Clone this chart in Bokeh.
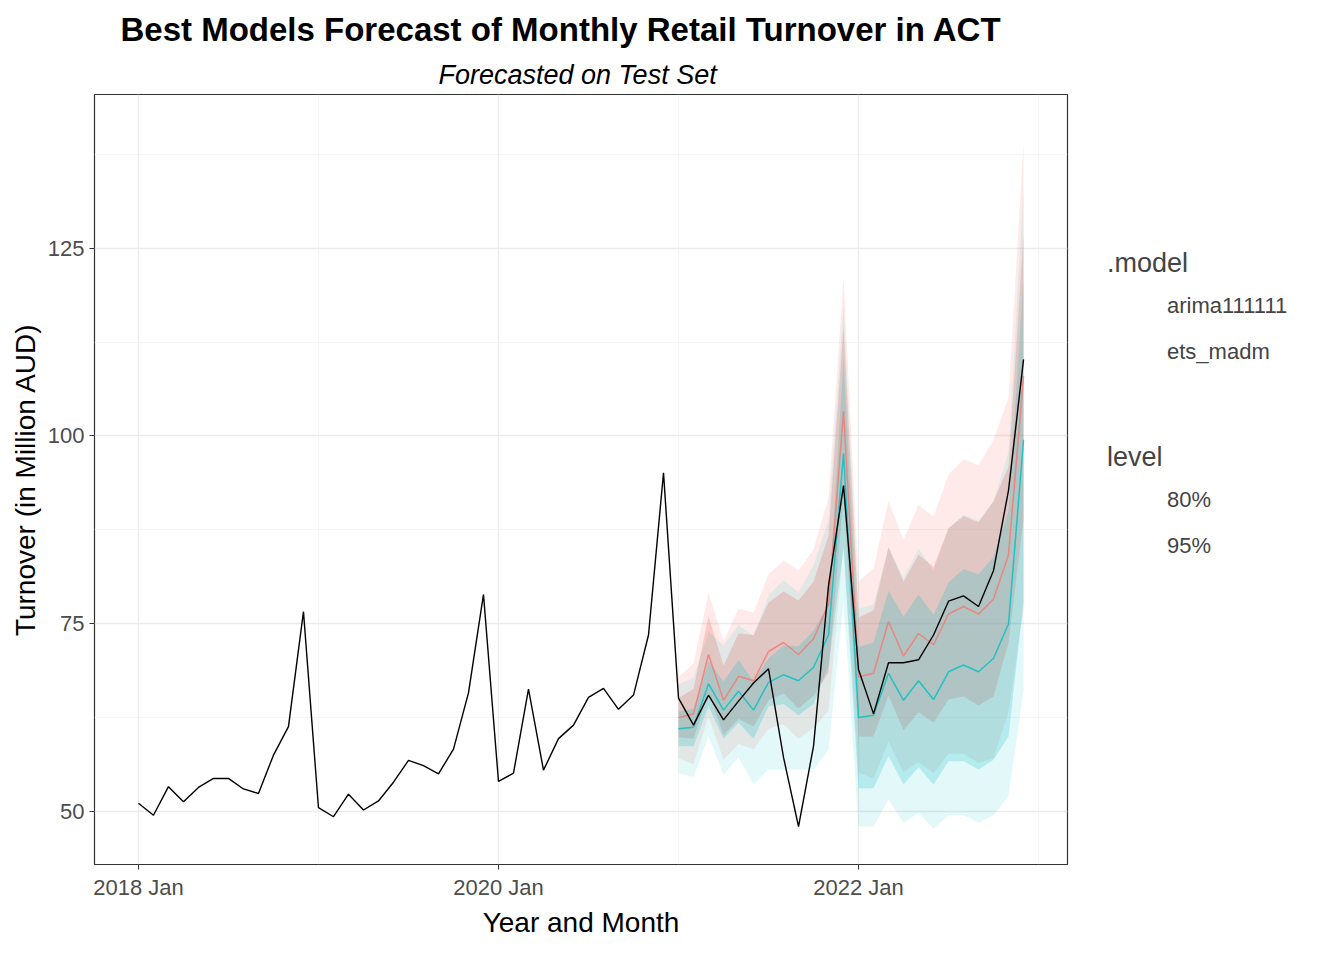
from bokeh.plotting import figure
from bokeh.models import (Range1d, FixedTicker, Title, Legend, LegendItem, ColumnDataSource)
from bokeh.layouts import row
from bokeh.embed import file_html
from bokeh.resources import INLINE

months = list(range(60))
actual = [51.1, 49.5, 53.3, 51.3, 53.2, 54.4, 54.4, 53.0, 52.4, 57.5, 61.3, 76.6,
          50.5, 49.3, 52.3, 50.2, 51.4, 53.9, 56.8, 56.1, 55.0, 58.3, 65.8, 78.9,
          54.0, 55.1, 66.3, 55.5, 59.7, 61.5, 65.2, 66.4, 63.6, 65.5, 73.5, 95.1,
          65.1, 61.5, 65.5, 62.2, 64.7, 67.1, 69.0, 57.2, 48.0, 58.7, 80.1, 93.4,
          68.9, 63.0, 69.8, 69.8, 70.2, 73.5, 78.0, 78.7, 77.3, 82.1, 92.8, 110.2]

fc_months = list(range(36, 60))
arima_mean = [62.5, 63.0, 70.9, 64.8, 68.0, 67.4, 71.3, 72.5, 70.9, 73.0, 77.6, 103.3,
              67.9, 68.4, 75.3, 70.7, 73.7, 72.2, 76.3, 77.3, 76.3, 78.3, 84.2, 108.0]
arima_up95 = [67.9, 69.7, 79.1, 72.7, 77.0, 76.5, 81.6, 83.4, 82.1, 84.9, 91.8, 121.1,
              80.6, 82.4, 91.3, 86.2, 90.8, 89.3, 94.9, 96.9, 96.1, 99.5, 105.1, 139.0]
arima_up80 = [65.1, 66.3, 76.0, 69.4, 73.7, 73.5, 77.8, 79.3, 78.1, 80.6, 86.7, 114.5,
              75.8, 76.8, 85.2, 80.6, 84.2, 82.6, 87.7, 89.3, 88.5, 91.3, 95.9, 127.0]
arima_lo80 = [59.9, 59.7, 65.8, 60.2, 62.3, 61.3, 64.8, 65.7, 63.7, 65.4, 68.5, 92.1,
              60.0, 60.0, 65.4, 60.8, 63.2, 61.8, 64.9, 65.3, 64.1, 65.3, 72.5, 89.0]
arima_lo95 = [57.1, 56.3, 62.7, 56.9, 59.0, 58.3, 61.0, 61.6, 59.7, 61.1, 63.4, 85.5,
              55.2, 54.4, 59.3, 55.2, 56.6, 55.1, 57.7, 57.7, 56.5, 57.1, 63.3, 77.0]

ets_mean = [61.0, 61.2, 67.0, 63.5, 66.0, 63.5, 67.2, 68.2, 67.4, 69.2, 73.5, 97.7,
            62.5, 62.8, 68.4, 64.8, 67.4, 64.9, 68.6, 69.5, 68.6, 70.4, 75.0, 99.5]
ets_up95 = [66.9, 67.8, 74.0, 72.1, 74.8, 73.4, 78.8, 80.8, 79.2, 82.8, 88.8, 117.4,
            77.0, 77.6, 85.2, 81.1, 85.0, 82.1, 87.7, 89.5, 88.7, 91.3, 97.9, 133.0]
ets_up80 = [63.3, 63.7, 70.0, 67.3, 70.2, 67.3, 70.4, 72.1, 72.0, 74.1, 77.6, 110.4,
            71.9, 72.5, 79.4, 76.0, 78.9, 76.2, 80.5, 82.3, 81.6, 83.9, 90.0, 121.0]
ets_lo80 = [58.7, 58.7, 64.0, 59.7, 61.8, 59.7, 64.0, 64.3, 62.8, 64.3, 69.4, 85.0,
            53.1, 53.1, 57.4, 53.6, 55.9, 53.6, 56.7, 56.7, 55.6, 56.9, 60.0, 78.0]
ets_lo95 = [55.1, 54.6, 60.0, 54.9, 57.2, 53.6, 55.6, 55.6, 55.6, 55.6, 58.2, 78.0,
            48.0, 48.0, 51.6, 48.5, 49.8, 47.7, 49.5, 49.5, 48.5, 49.5, 52.1, 66.0]

x_ticks = [0, 24, 48]
x_labels = ["2018 Jan", "2020 Jan", "2022 Jan"]
y_ticks = [50, 75, 100, 125]

RED = "#F8766D"
TEAL = "#00BFC4"
FONT = "Liberation Sans"

p = figure(width=1069, height=944, output_backend="svg", toolbar_location=None,
           x_range=Range1d(-2.93, 61.93), y_range=Range1d(42.94, 145.47),
           min_border_left=94, min_border_right=2, min_border_top=94, min_border_bottom=80)

p.title.visible = False
p.add_layout(Title(text="Forecasted on Test Set", text_font=FONT, text_font_size="27px",
                   text_font_style="italic", text_color="black", align="left", offset=344), "above")
p.add_layout(Title(text="Best Models Forecast of Monthly Retail Turnover in ACT", text_font=FONT,
                   text_font_size="33px", text_font_style="bold", text_color="black",
                   align="left", offset=26), "above")

p.outline_line_color = "#333333"
p.outline_line_width = 1.2

for ax in (p.xaxis, p.yaxis):
    ax.axis_line_color = None
    ax.major_tick_line_color = "#333333"
    ax.major_tick_out = 5
    ax.major_tick_in = 0
    ax.minor_tick_line_color = None
    ax.major_label_text_font = FONT
    ax.major_label_text_font_size = "22px"
    ax.major_label_text_color = "#4D4D4D"
    ax.axis_label_text_font = FONT
    ax.axis_label_text_font_size = "28px"
    ax.axis_label_text_font_style = "normal"
    ax.axis_label_text_color = "black"
    ax.axis_label_standoff = 4

p.xaxis.ticker = FixedTicker(ticks=x_ticks)
p.xaxis.major_label_overrides = {t: l for t, l in zip(x_ticks, x_labels)}
p.yaxis.ticker = FixedTicker(ticks=y_ticks)
p.xaxis.axis_label = "Year and Month"
p.yaxis.axis_label = "Turnover (in Million AUD)"

p.xgrid.ticker = FixedTicker(ticks=x_ticks, minor_ticks=[12, 36, 60])
p.ygrid.ticker = FixedTicker(ticks=y_ticks, minor_ticks=[62.5, 87.5, 112.5, 137.5])
for g in (p.xgrid, p.ygrid):
    g.grid_line_color = "#EBEBEB"
    g.grid_line_width = 1.3
    g.minor_grid_line_color = "#F2F2F2"
    g.minor_grid_line_width = 0.8

src = ColumnDataSource(dict(x=fc_months, am=arima_mean, au95=arima_up95, au80=arima_up80,
                            al80=arima_lo80, al95=arima_lo95, em=ets_mean, eu95=ets_up95,
                            eu80=ets_up80, el80=ets_lo80, el95=ets_lo95))

for col, lo95, up95, lo80, up80, a95, a80 in ((RED, "al95", "au95", "al80", "au80", 0.15, 0.3),
                                              (TEAL, "el95", "eu95", "el80", "eu80", 0.11, 0.21)):
    p.varea(x="x", y1=lo95, y2=up95, source=src, fill_color=col, fill_alpha=a95)
    p.varea(x="x", y1=lo80, y2=up80, source=src, fill_color=col, fill_alpha=a80)

p.line(x="x", y="am", source=src, line_color=RED, line_width=1.5, line_alpha=0.8)
p.line(x="x", y="em", source=src, line_color=TEAL, line_width=1.5, line_alpha=0.8)
p.line(months, actual, line_color="black", line_width=1.4)

# legend panel figure
lf = figure(width=259, height=944, output_backend="svg", toolbar_location=None,
            x_range=Range1d(0, 1), y_range=Range1d(0, 1),
            min_border_left=0, min_border_right=0, min_border_top=0, min_border_bottom=0)
lf.axis.visible = False
lf.grid.visible = False
lf.outline_line_color = None

def dummy_rect(color, alpha):
    return lf.rect(x=[], y=[], width=1, height=1, fill_color=color, fill_alpha=alpha, line_color=None)

def dummy_line(color):
    return lf.line(x=[], y=[], line_color=color, line_width=1.5, line_alpha=0.8)

ra = dummy_rect(RED, 0.5); la = dummy_line(RED)
re = dummy_rect(TEAL, 0.5); le = dummy_line(TEAL)
r80 = dummy_rect("#D9D9D9", 1.0)
r95 = dummy_rect("#EDEDED", 1.0)

def style_legend(lg):
    lg.title_text_font = FONT
    lg.title_text_font_size = "27px"
    lg.title_text_font_style = "normal"
    lg.title_standoff = 4
    lg.label_text_font = FONT
    lg.label_text_font_size = "22px"
    lg.glyph_width = 46
    lg.glyph_height = 46
    lg.label_height = 46
    lg.label_standoff = 14
    lg.spacing = 0
    lg.padding = 4
    lg.margin = 0
    lg.border_line_color = None
    lg.background_fill_alpha = 0

lg1 = Legend(items=[LegendItem(label="arima111111", renderers=[ra, la]),
                    LegendItem(label="ets_madm", renderers=[re, le])],
             title=".model", location=(38, 489))
lg2 = Legend(items=[LegendItem(label="80%", renderers=[r80]),
                    LegendItem(label="95%", renderers=[r95])],
             title="level", location=(38, 295))
style_legend(lg1); style_legend(lg2)
lf.add_layout(lg1, "center")
lf.add_layout(lg2, "center")

layout = row(p, lf, spacing=0)
open("out.html", "w").write(file_html(layout, INLINE))
